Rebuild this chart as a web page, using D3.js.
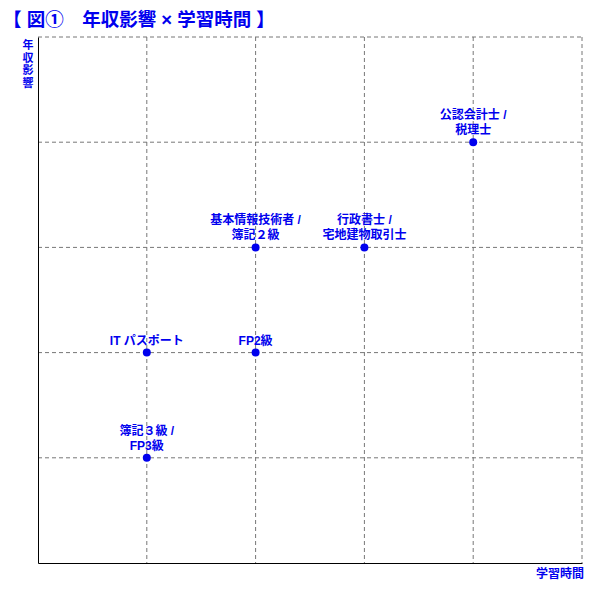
<!DOCTYPE html>
<html>
<head>
<meta charset="utf-8">
<script src="https://cdn.jsdelivr.net/npm/d3@7"></script>
<style>
  body { margin: 0; background: #fff; }
  text { font-family: "Liberation Sans", "Noto Sans CJK JP", sans-serif; font-weight: bold; fill: #0000ee; }
</style>
</head>
<body>
<script>
// chart data
var labels = [['簿記３級 /', 'FP3級'], ['IT パスポート'], ['FP2級'], ['基本情報技術者 /', '簿記２級'], ['行政書士 /', '宅地建物取引士'], ['公認会計士 /', '税理士']];
var studyTime = [1, 1, 2, 2, 3, 4];
var incomeImpact = [1, 2, 2, 3, 3, 4];
var ticks = [0, 1, 2, 3, 4, 5];

var W = 600, H = 600;
var plotL = 38, plotR = 582, plotT = 37, plotB = 563;

var svg = d3.select('body').append('svg')
	.attr('width', W)
	.attr('height', H);

var x = d3.scaleLinear().domain([0, 5]).range([plotL, plotR]);
var y = d3.scaleLinear().domain([0, 5]).range([plotB, plotT]);

// dashed grid
svg.selectAll('.vgrid')
	.data(ticks.slice(1))
	.enter().append('line')
	.attr('x1', d => x(d)).attr('x2', d => x(d))
	.attr('y1', plotT).attr('y2', plotB)
	.attr('stroke', '#777').attr('stroke-dasharray', '4,3');

svg.selectAll('.hgrid')
	.data(ticks.slice(1))
	.enter().append('line')
	.attr('y1', d => y(d)).attr('y2', d => y(d))
	.attr('x1', plotL).attr('x2', plotR)
	.attr('stroke', '#777').attr('stroke-dasharray', '4,3');

// axes (no ticks)
svg.append('g')
	.attr('transform', 'translate(0,' + plotB + ')')
	.call(d3.axisBottom(x).tickValues([]).tickSizeOuter(0))
	.select('.domain').attr('stroke', '#000');
svg.append('g')
	.attr('transform', 'translate(' + plotL + ',0)')
	.call(d3.axisLeft(y).tickValues([]).tickSizeOuter(0))
	.select('.domain').attr('stroke', '#000');

// title
svg.append('text')
	.attr('x', 3).attr('y', 26)
	.style('font-size', '18.5px')
	.text('【 図①　年収影響 × 学習時間 】');

// y label, stacked vertically
var yl = svg.append('text')
	.attr('text-anchor', 'middle')
	.style('font-size', '11px');
'年収影響'.split('').forEach(function(c, i) {
	yl.append('tspan').attr('x', 28).attr('y', 49 + i * 12.5).text(c);
});

// x label
svg.append('text')
	.attr('x', 584).attr('y', 578)
	.attr('text-anchor', 'end')
	.style('font-size', '12px')
	.text('学習時間');

// points
var pts = svg.selectAll('.pt')
	.data(labels)
	.enter().append('g');

pts.append('circle')
	.attr('cx', (d, i) => x(studyTime[i]))
	.attr('cy', (d, i) => y(incomeImpact[i]))
	.attr('r', 4)
	.attr('fill', '#0000ee');

pts.each(function(d, i) {
	var g = d3.select(this);
	var n = d.length;
	d.forEach(function(line, k) {
		g.append('text')
			.attr('x', x(studyTime[i]))
			.attr('y', y(incomeImpact[i]) - 8 - (n - 1 - k) * 15)
			.attr('text-anchor', 'middle')
			.style('font-size', '12px')
			.text(line);
	});
});
</script>
</body>
</html>
